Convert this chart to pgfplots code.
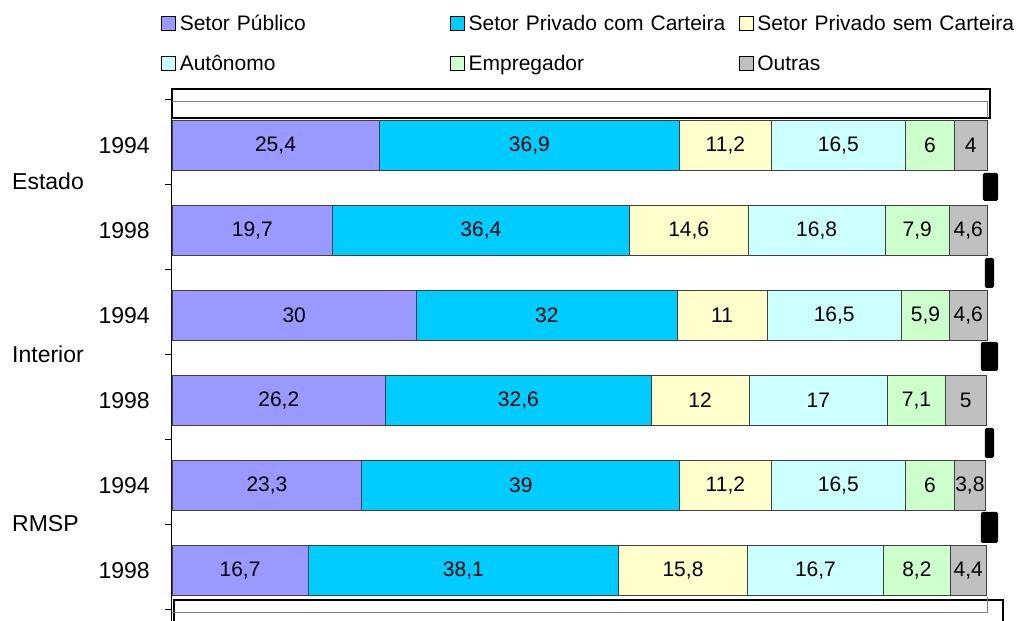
\documentclass[border=0pt]{standalone}
\usepackage{pgfplots}
\pgfplotsset{compat=1.18}
\usepackage{fontspec}
\setmainfont{Liberation Sans}
\definecolor{cPub}{HTML}{9999FF}
\definecolor{cCom}{HTML}{00CCFF}
\definecolor{cSem}{HTML}{FFFFCC}
\definecolor{cAut}{HTML}{CCFFFF}
\definecolor{cEmp}{HTML}{CCFFCC}
\definecolor{cOut}{HTML}{C0C0C0}
\begin{document}
\begin{tikzpicture}
\begin{axis}[
  scale only axis,
  width=815pt, height=532.1pt,
  xmin=0, xmax=100,
  ymin=-0.63, ymax=5.63,
  y dir=reverse,
  enlargelimits=false,
  clip=false,
  axis x line=none,
  axis y line*=left,
  axis line style={-, black, line width=1pt},
  xbar stacked,
  bar width=0.59,
  bar shift=-3pt,
  ytick={-0.5,0.5,1.5,2.5,3.5,4.5,5.5},
  yticklabels={},
  ytick pos=left,
  tick align=outside,
  major tick length=7pt,
  tick style={black, line width=1pt},
  extra y ticks={0,1,2,3,4,5},
  extra y tick labels={1994,1998,1994,1998,1994,1998},
  extra y tick style={major tick length=0pt, yticklabel style={font=\fontsize{23}{26}\selectfont, xshift=-22pt, yshift=-3pt, inner sep=0pt}},
  /pgf/number format/assume math mode=true,
  point meta=rawx,
  nodes near coords={\pgfmathprintnumber[use comma,assume math mode=true]{\pgfplotspointmeta}},
  nodes near coords align={center},
  every node near coord/.append style={anchor=center, font=\fontsize{21}{24}\selectfont, text=black},
  every axis plot post/.append style={draw=black!75, line width=0.8pt,
    legend image code/.code={\draw[#1, draw=black, line width=0.8pt] (0pt,-7pt) rectangle (14pt,7pt);}},
  legend columns=3,
  legend cell align=left,
  legend style={at={(axis description cs:-0.0135,1.138)}, anchor=north west, draw=none, fill=none,
    inner sep=0pt, outer sep=0pt, row sep=25pt, column sep=0pt,
    font=\fontsize{21}{24}\selectfont,
    nodes={inner sep=0pt, text height=15pt, text depth=0pt, text width=270pt, align=left},
    /tikz/every odd column/.append style={column sep=4pt}},
]
\addplot[fill=cPub] coordinates {(25.4,0) (19.7,1) (30,2) (26.2,3) (23.3,4) (16.7,5)};
\addlegendentry{Setor Público}
\addplot[fill=cCom] coordinates {(36.9,0) (36.4,1) (32,2) (32.6,3) (39,4) (38.1,5)};
\addlegendentry{Setor Privado com Carteira}
\addplot[fill=cSem] coordinates {(11.2,0) (14.6,1) (11,2) (12,3) (11.2,4) (15.8,5)};
\addlegendentry{Setor Privado sem Carteira}
\addplot[fill=cAut] coordinates {(16.5,0) (16.8,1) (16.5,2) (17,3) (16.5,4) (16.7,5)};
\addlegendentry{Autônomo}
\addplot[fill=cEmp] coordinates {(6,0) (7.9,1) (5.9,2) (7.1,3) (6,4) (8.2,5)};
\addlegendentry{Empregador}
\addplot[fill=cOut] coordinates {(4,0) (4.6,1) (4.6,2) (5,3) (3.8,4) (4.4,5)};
\addlegendentry{Outras}

% group labels
\node[anchor=west, inner sep=0pt, font=\fontsize{23}{26}\selectfont, xshift=-160pt] at (axis cs:0,0.453) {Estado};
\node[anchor=west, inner sep=0pt, font=\fontsize{23}{26}\selectfont, xshift=-160pt] at (axis cs:0,2.488) {Interior};
\node[anchor=west, inner sep=0pt, font=\fontsize{23}{26}\selectfont, xshift=-160pt] at (axis cs:0,4.488) {RMSP};

% frame artefacts of the original
\draw[gray, line width=0.8pt] (axis cs:0,-0.488) -- (axis cs:100,-0.488) -- (axis cs:100,-0.288);
\draw[black, line width=2pt] (axis cs:0,-0.625) rectangle (axis cs:100.37,-0.288);
\draw[gray, line width=0.8pt] (axis cs:0,5.524) -- (axis cs:100,5.524) -- (axis cs:100,5.35);
\draw[black, line width=2pt] (axis cs:0.245,5.8) -- (axis cs:0.245,5.382) -- (axis cs:101.96,5.382) -- (axis cs:101.96,5.8);
\fill[black, rounded corners=1.5pt] (axis cs:99.5,0.359) rectangle (axis cs:101.35,0.688);
\fill[black, rounded corners=1.5pt] (axis cs:99.75,1.359) rectangle (axis cs:100.86,1.712);
\fill[black, rounded corners=1.5pt] (axis cs:99.26,2.347) rectangle (axis cs:101.35,2.688);
\fill[black, rounded corners=1.5pt] (axis cs:99.75,3.359) rectangle (axis cs:100.86,3.712);
\fill[black, rounded corners=1.5pt] (axis cs:99.26,4.347) rectangle (axis cs:101.35,4.712);
\end{axis}
\pgfresetboundingbox
\useasboundingbox (-172pt,0pt) rectangle (846pt,621pt);
\end{tikzpicture}
\end{document}
